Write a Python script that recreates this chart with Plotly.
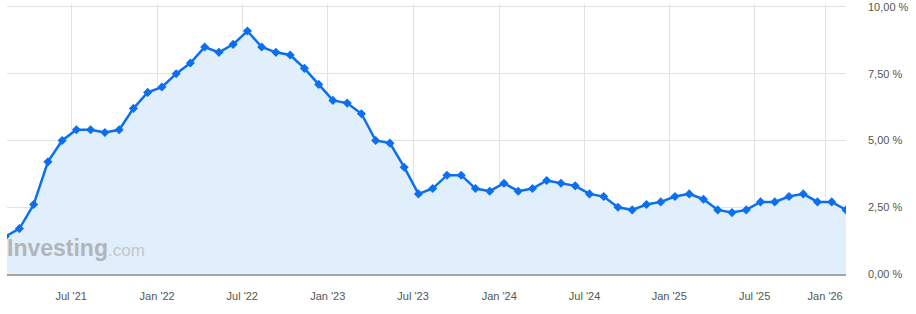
import plotly.graph_objects as go
import numpy as np
import pandas as pd

# US CPI YoY (%), plotted at release dates (ordinal axis)
release_dates = [
    "2021-02-10", "2021-03-10", "2021-04-13", "2021-05-12", "2021-06-10", "2021-07-13",
    "2021-08-11", "2021-09-14", "2021-10-13", "2021-11-10", "2021-12-10", "2022-01-12",
    "2022-02-10", "2022-03-10", "2022-04-12", "2022-05-11", "2022-06-10", "2022-07-13",
    "2022-08-10", "2022-09-13", "2022-10-13", "2022-11-10", "2022-12-13", "2023-01-12",
    "2023-02-14", "2023-03-14", "2023-04-12", "2023-05-10", "2023-06-13", "2023-07-12",
    "2023-08-10", "2023-09-13", "2023-10-12", "2023-11-14", "2023-12-12", "2024-01-11",
    "2024-02-13", "2024-03-12", "2024-04-10", "2024-05-15", "2024-06-12", "2024-07-11",
    "2024-08-14", "2024-09-11", "2024-10-10", "2024-11-13", "2024-12-11", "2025-01-15",
    "2025-02-12", "2025-03-12", "2025-04-10", "2025-05-13", "2025-06-11", "2025-07-15",
    "2025-08-12", "2025-09-11", "2025-10-24", "2025-12-18", "2026-01-13", "2026-02-11",
]
cpi_yoy = [
    1.4, 1.7, 2.6, 4.2, 5.0, 5.4, 5.4, 5.3, 5.4, 6.2, 6.8, 7.0,
    7.5, 7.9, 8.5, 8.3, 8.6, 9.1, 8.5, 8.3, 8.2, 7.7, 7.1, 6.5,
    6.4, 6.0, 5.0, 4.9, 4.0, 3.0, 3.2, 3.7, 3.7, 3.2, 3.1, 3.4,
    3.1, 3.2, 3.5, 3.4, 3.3, 3.0, 2.9, 2.5, 2.4, 2.6, 2.7, 2.9,
    3.0, 2.8, 2.4, 2.3, 2.4, 2.7, 2.7, 2.9, 3.0, 2.7, 2.7, 2.4,
]
tick_dates = ["2021-07-01", "2022-01-01", "2022-07-01", "2023-01-01", "2023-07-01",
              "2024-01-01", "2024-07-01", "2025-01-01", "2025-07-01", "2026-01-01"]
tick_labels = ["Jul '21", "Jan '22", "Jul '22", "Jan '23", "Jul '23",
               "Jan '24", "Jul '24", "Jan '25", "Jul '25", "Jan '26"]
y_ticks = [0, 2.5, 5, 7.5, 10]
y_tick_labels = ["0,00 %", "2,50 %", "5,00 %", "7,50 %", "10,00 %"]

idx = np.arange(len(cpi_yoy))
rel_ts = pd.to_datetime(release_dates).astype("int64").to_numpy()
tick_ts = pd.to_datetime(tick_dates).astype("int64").to_numpy()
tick_pos = np.interp(tick_ts, rel_ts, idx)

fig = go.Figure()
fig.add_trace(go.Scatter(
    x=idx, y=cpi_yoy, mode="lines+markers",
    line=dict(color="#0b6ff0", width=2.5),
    marker=dict(symbol="diamond", size=7, color="#0b6ff0"),
    fill="tozeroy", fillcolor="#e1eefb",
    hoverinfo="skip", showlegend=False, cliponaxis=True,
))

fig.add_annotation(
    xref="paper", yref="paper", x=0, y=0.04, xanchor="left", yanchor="bottom",
    xshift=-2,
    text="<b>Investing</b><span style='color:#c3c7ca;font-size:17px'>.com</span>",
    showarrow=False,
    font=dict(family="Liberation Sans, Arial, sans-serif", size=23, color="#b1b5b9"),
)

fig.update_layout(
    width=916, height=314,
    margin=dict(l=7, r=70, t=1, b=40),
    paper_bgcolor="white", plot_bgcolor="white",
    font=dict(family="Liberation Sans, Arial, sans-serif", size=11, color="#555555"),
    xaxis=dict(
        range=[0.13, 59.0], tickmode="array", tickvals=tick_pos, ticktext=tick_labels,
        showgrid=True, gridcolor="#e3e3e3", gridwidth=1,
        showline=True, linecolor="#a6a6a6", linewidth=1.5,
        zeroline=False, ticks="", ticklabelstandoff=11,
        tickfont=dict(size=11, color="#555555"),
    ),
    yaxis=dict(
        side="right", range=[0, 10.11], tickmode="array", tickvals=y_ticks, ticktext=y_tick_labels,
        showgrid=True, gridcolor="#e3e3e3", gridwidth=1,
        zeroline=False, showline=False, ticks="", ticklabelstandoff=21,
        ticklabeloverflow="allow",
        tickfont=dict(size=11, color="#555555"),
    ),
)

fig.write_html("out.html")
